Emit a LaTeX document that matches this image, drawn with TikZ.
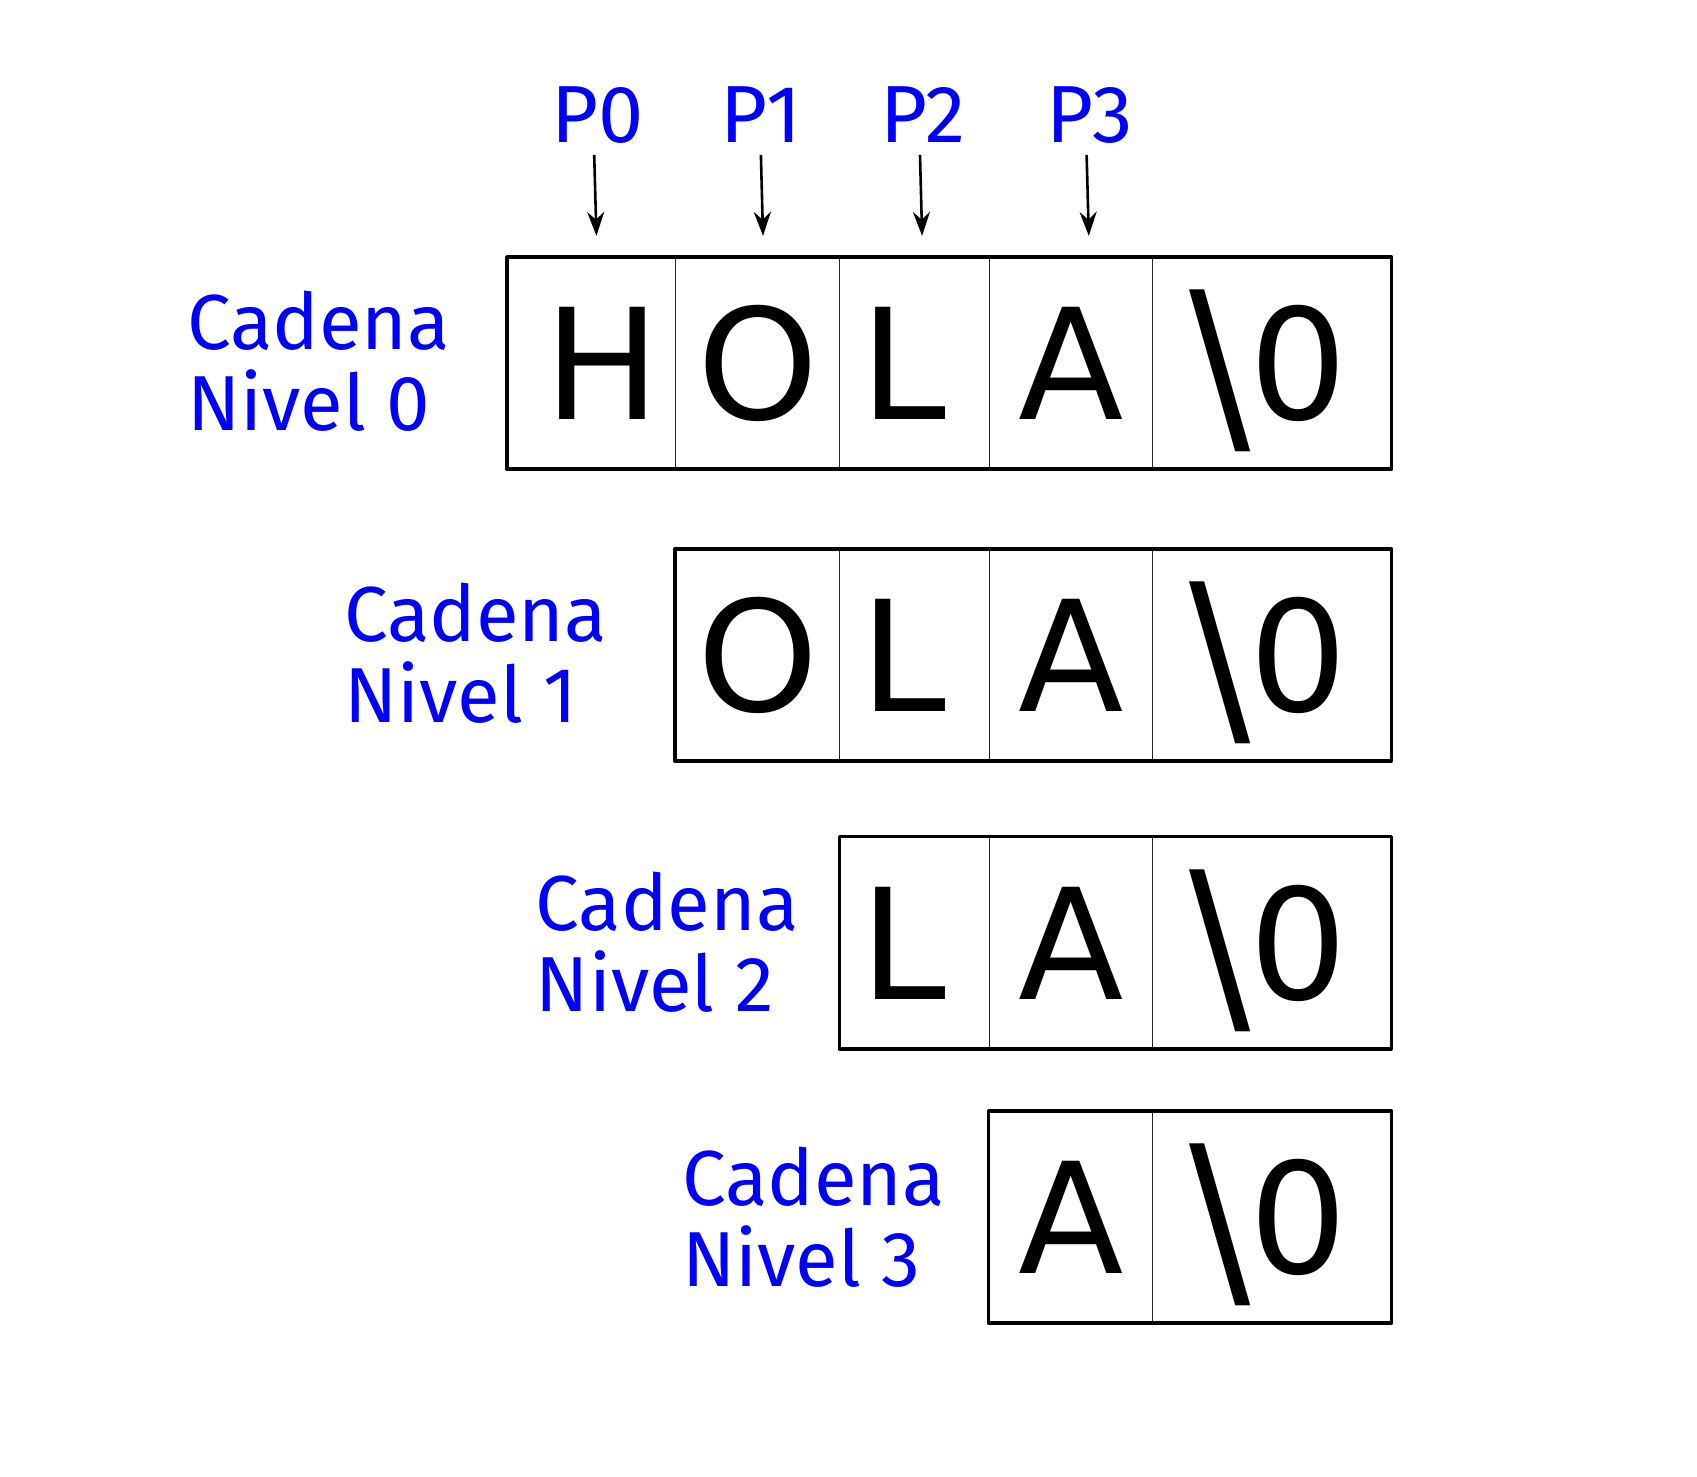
\documentclass[tikz,border=0pt]{standalone}
\usepackage{fontspec}
\setmainfont{DejaVu Sans}
\newfontfamily\labelfont{Fira Sans}
\usetikzlibrary{arrows.meta}
\definecolor{lblue}{RGB}{0,0,255}
\newcommand\nulchar{\raisebox{-14pt}{\scalebox{1.18}[1.28]{\textbackslash}}\kern-1pt 0\kern6pt}
\begin{document}
\begin{tikzpicture}[x=1pt,y=-1pt,
 cell/.style={draw=black!85,line width=1.1pt,inner sep=0pt,minimum height=211pt,text height=112.6pt,text depth=0pt,font=\fontsize{154}{154}\selectfont},
 outer/.style={draw=black,line width=3.6pt,line join=round},
 lbl/.style={text=lblue,font=\labelfont\fontsize{78}{81}\selectfont,align=left,inner sep=0pt,anchor=west},
 plbl/.style={text=lblue,font=\labelfont\fontsize{81}{81}\selectfont,inner sep=0pt,anchor=base},
 ptr/.style={-{Stealth[length=24pt,width=17pt]},line width=2.6pt}]
\useasboundingbox (0,0) rectangle (1697,1477);
% row 0
\node[cell,minimum width=167.8pt] (c00) at (591.5,363.1) {\kern21.6pt H};
\node[cell,minimum width=164.5pt] (c01) at (757.65,363.1) {O};
\node[cell,minimum width=149.3pt] (c02) at (914.55,363.1) {L\kern21.6pt};
\node[cell,minimum width=163.5pt] (c03) at (1070.95,363.1) {A};
\node[cell,minimum width=238.1pt] (c04) at (1271.75,363.1) {\nulchar};
\draw[outer] (c00.north west) rectangle (c04.south east);
% row 1
\node[cell,minimum width=164.5pt] (c11) at (757.65,654.8) {O};
\node[cell,minimum width=149.3pt] (c12) at (914.55,654.8) {L\kern21.6pt};
\node[cell,minimum width=163.5pt] (c13) at (1070.95,654.8) {A};
\node[cell,minimum width=238.1pt] (c14) at (1271.75,654.8) {\nulchar};
\draw[outer] (c11.north west) rectangle (c14.south east);
% row 2
\node[cell,minimum width=149.3pt] (c22) at (914.55,942.7) {L\kern21.6pt};
\node[cell,minimum width=163.5pt] (c23) at (1070.95,942.7) {A};
\node[cell,minimum width=238.1pt] (c24) at (1271.75,942.7) {\nulchar};
\draw[outer] (c22.north west) rectangle (c24.south east);
% row 3
\node[cell,minimum width=163.5pt] (c33) at (1070.95,1217.05) {A};
\node[cell,minimum width=238.1pt] (c34) at (1271.75,1217.05) {\nulchar};
\draw[outer] (c33.north west) rectangle (c34.south east);
% labels
\node[lbl] (n0) at (187.2,361) {Cadena\\Nivel 0};
\node[lbl] (n1) at (344.2,653.2) {Cadena\\Nivel 1};
\node[lbl] (n2) at (535.7,942.7) {Cadena\\Nivel 2};
\node[lbl] (n3) at (681.9,1217) {Cadena\\Nivel 3};
% pointers
\node[plbl] (p0) at (597.4,142.9) {P0};
\node[plbl] (p1) at (761.4,142.9) {P1};
\node[plbl] (p2) at (923.2,142.9) {P2};
\node[plbl] (p3) at (1089.9,142.9) {P3};
\coordinate (t0) at (596.4,235.9);
\coordinate (t1) at (763.0,235.9);
\coordinate (t2) at (922.1,235.9);
\coordinate (t3) at (1088.8,235.9);
\draw[ptr] ([xshift=-3.2pt,yshift=-12pt]p0.base) -- (t0);
\draw[ptr] ([xshift=-0.5pt,yshift=-12pt]p1.base) -- (t1);
\draw[ptr] ([xshift=-3.2pt,yshift=-12pt]p2.base) -- (t2);
\draw[ptr] ([xshift=-3.3pt,yshift=-12pt]p3.base) -- (t3);
\end{tikzpicture}
\end{document}
